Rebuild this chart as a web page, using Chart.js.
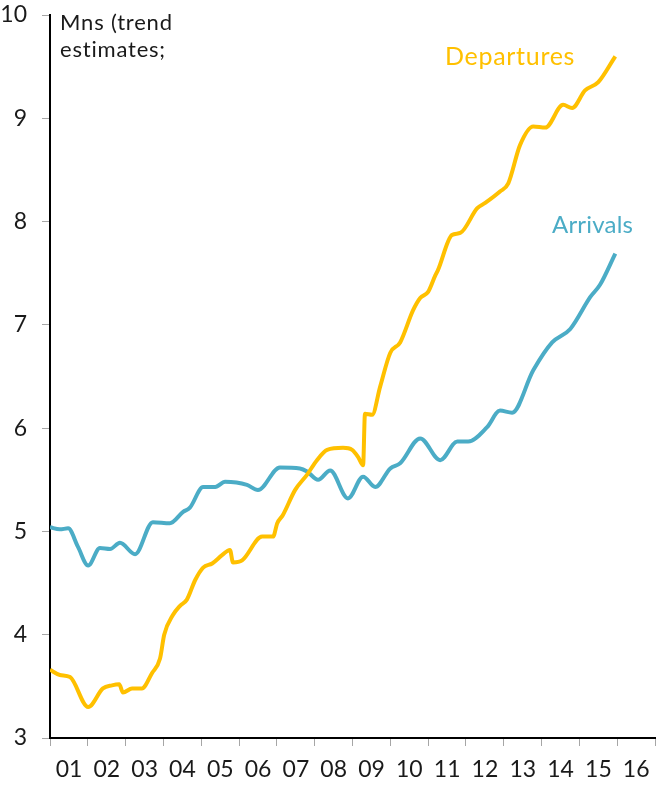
<!DOCTYPE html>
<html>
<head>
<meta charset="utf-8">
<script src="https://cdn.jsdelivr.net/npm/chart.js@4.4.1/dist/chart.umd.min.js"></script>
<style>
    html, body { margin: 0; padding: 0; background: #ffffff; }
    #wrap { position: relative; width: 656px; height: 786px; }
    #flowChart { position: absolute; left: 0; top: 0; }
    .note { position: absolute; font-family: Lato, sans-serif; white-space: nowrap; }
</style>
</head>
<body>
<div id="wrap">
    <canvas id="flowChart" width="656" height="786"></canvas>
    <div class="note" style="left:60px; top:8px; font-size:22px; line-height:27px; letter-spacing:0.8px; color:#1a1a1a;">Mns (trend<br>estimates;</div>
    <div class="note" style="left:445px; top:40px; font-size:25px; letter-spacing:0.7px; color:#FFC000;">Departures</div>
    <div class="note" style="left:552px; top:209px; font-size:24px; letter-spacing:0.2px; color:#4BACC6;">Arrivals</div>
</div>
<script>
// x tick labels (years 2001..2016), ticks sit on year boundaries
const xTickLabels = ['01', '02', '03', '04', '05', '06', '07', '08', '09', '10', '11', '12', '13', '14', '15', '16'];
const tickYears = [2001, 2002, 2003, 2004, 2005, 2006, 2007, 2008, 2009, 2010, 2011, 2012, 2013, 2014, 2015, 2016, 2017];

// Departures, millions (trend estimates)
const depYears = [2001.00, 2001.26, 2001.53, 2002.01, 2002.40, 2002.64, 2002.83, 2002.93, 2003.17, 2003.43,
    2003.70, 2003.91, 2004.02, 2004.25, 2004.44, 2004.62, 2004.84, 2005.05, 2005.29, 2005.55,
    2005.76, 2005.84, 2006.08, 2006.61, 2006.90, 2007.01, 2007.16, 2007.48, 2007.80, 2008.06,
    2008.33, 2008.75, 2008.99, 2009.15, 2009.28, 2009.33, 2009.52, 2009.73, 2010.00, 2010.26,
    2010.60, 2010.79, 2011.00, 2011.19, 2011.26, 2011.63, 2011.85, 2012.30, 2012.51, 2012.90,
    2013.12, 2013.43, 2013.78, 2014.10, 2014.57, 2014.81, 2015.15, 2015.50, 2015.95];
const depValues = [3.66, 3.61, 3.59, 3.30, 3.48, 3.51, 3.52, 3.44, 3.48, 3.48,
    3.63, 3.77, 4.00, 4.19, 4.28, 4.34, 4.53, 4.65, 4.69, 4.77,
    4.82, 4.70, 4.72, 4.95, 4.95, 5.08, 5.16, 5.40, 5.55, 5.69,
    5.79, 5.81, 5.79, 5.72, 5.64, 6.14, 6.13, 6.40, 6.73, 6.83,
    7.14, 7.26, 7.32, 7.48, 7.53, 7.87, 7.89, 8.13, 8.18, 8.29,
    8.37, 8.74, 8.92, 8.91, 9.13, 9.10, 9.27, 9.35, 9.60];

// Arrivals, millions (trend estimates)
const arrYears = [2001.00, 2001.26, 2001.48, 2001.74, 2002.01, 2002.32, 2002.59, 2002.85, 2003.25, 2003.72,
    2004.17, 2004.52, 2004.70, 2005.05, 2005.37, 2005.63, 2006.21, 2006.50, 2007.08, 2007.61,
    2007.80, 2008.09, 2008.41, 2008.88, 2009.28, 2009.60, 2010.00, 2010.26, 2010.79, 2011.32,
    2011.77, 2012.06, 2012.56, 2012.90, 2013.22, 2013.78, 2014.28, 2014.76, 2015.29, 2015.55,
    2015.95];
const arrValues = [5.04, 5.02, 5.03, 4.85, 4.67, 4.84, 4.83, 4.89, 4.78, 5.09,
    5.08, 5.19, 5.23, 5.43, 5.43, 5.48, 5.45, 5.40, 5.62, 5.61,
    5.58, 5.50, 5.59, 5.32, 5.53, 5.43, 5.61, 5.66, 5.90, 5.69,
    5.87, 5.87, 6.01, 6.17, 6.15, 6.56, 6.83, 6.96, 7.27, 7.39,
    7.69];

const toPoints = (xs, ys) => xs.map((x, i) => ({ x: x, y: ys[i] }));

const tickFont = { family: 'Lato', size: 23 };

// drop the extra room chart.js reserves for edge labels, layout padding decides instead
const noEdgePad = (scale) => {
    scale.paddingTop = 0;
    scale.paddingBottom = 0;
    scale.paddingLeft = 0;
    scale.paddingRight = 0;
};

new Chart(document.getElementById('flowChart').getContext('2d'), {
    type: 'line',
    data: {
        datasets: [
            {
                label: 'Departures',
                data: toPoints(depYears, depValues),
                borderColor: '#FFC000',
                borderWidth: 4,
                pointRadius: 0,
                fill: false,
                cubicInterpolationMode: 'monotone'
            },
            {
                label: 'Arrivals',
                data: toPoints(arrYears, arrValues),
                borderColor: '#4BACC6',
                borderWidth: 4,
                pointRadius: 0,
                fill: false,
                cubicInterpolationMode: 'monotone'
            }
        ]
    },
    options: {
        responsive: false,
        animation: false,
        layout: { padding: { top: 15, right: 1, left: 0, bottom: 0 } },
        plugins: {
            legend: { display: false },
            tooltip: { enabled: false }
        },
        scales: {
            x: {
                type: 'linear',
                min: 2001,
                max: 2017,
                afterBuildTicks: (scale) => { scale.ticks = tickYears.map(v => ({ value: v })); },
                afterFit: (scale) => { scale.height = 48; noEdgePad(scale); },
                grid: { drawOnChartArea: false, drawTicks: true, tickLength: 8, color: '#a6a6a6' },
                border: { display: true, color: '#000000', width: 2 },
                ticks: {
                    autoSkip: false,
                    maxRotation: 0,
                    labelOffset: 19,
                    padding: 10,
                    color: '#1a1a1a',
                    font: tickFont,
                    callback: (value, index) => xTickLabels[index] || ''
                }
            },
            y: {
                min: 3,
                max: 10,
                afterFit: (scale) => { scale.width = 50; noEdgePad(scale); },
                grid: { drawOnChartArea: false, drawTicks: true, tickLength: 8, color: '#a6a6a6' },
                border: { display: true, color: '#000000', width: 2 },
                ticks: {
                    stepSize: 1,
                    padding: 15,
                    color: '#1a1a1a',
                    font: tickFont
                }
            }
        }
    }
});
</script>
</body>
</html>
